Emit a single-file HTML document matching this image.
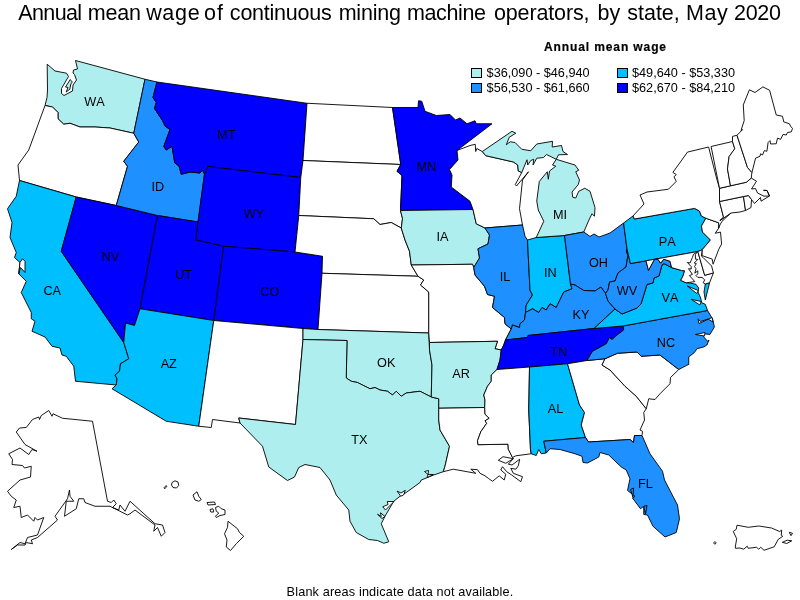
<!DOCTYPE html>
<html><head><meta charset="utf-8"><title>Annual mean wage of continuous mining machine operators, by state, May 2020</title>
<style>
html,body{margin:0;padding:0;background:#fff;}
body{width:800px;height:600px;position:relative;overflow:hidden;font-family:"Liberation Sans",Arial,sans-serif;color:#000;}
#title{position:absolute;left:0;top:1px;width:800px;height:24px;font-size:21.5px;white-space:nowrap;line-height:24px;}
#title span{position:absolute;top:0;}
#map{position:absolute;left:0;top:0;}
#map path{stroke:#000;stroke-width:0.9;stroke-linejoin:miter;stroke-miterlimit:3;}
#map text{font-size:12.7px;text-anchor:middle;fill:#000;font-kerning:none;}
#legend-title{position:absolute;left:544px;top:39.8px;font-size:12px;font-weight:bold;white-space:nowrap;line-height:14px;letter-spacing:0.89px;-webkit-text-stroke:0.2px #000}
.lg{position:absolute;font-size:12.7px;white-space:nowrap;line-height:14px;}
.sw{position:absolute;width:9px;height:8px;border:1px solid #000;}
#foot{position:absolute;left:0;width:800px;top:584.8px;text-align:center;font-size:12.7px;line-height:14px;letter-spacing:0.15px}
</style></head><body>
<div id="title"><span style="left:18.34px;letter-spacing:-0.642px">Annual</span> <span style="left:87.86px;letter-spacing:-0.209px">mean</span> <span style="left:146.15px;letter-spacing:0.689px">wage</span> <span style="left:204.00px;letter-spacing:1.073px">of</span> <span style="left:229.86px;letter-spacing:-0.232px">continuous</span> <span style="left:338.65px;letter-spacing:-0.207px">mining</span> <span style="left:407.00px;letter-spacing:-0.383px">machine</span> <span style="left:493.91px;letter-spacing:-0.128px">operators,</span> <span style="left:597.51px;letter-spacing:0.075px">by</span> <span style="left:627.34px;letter-spacing:-0.035px">state,</span> <span style="left:686.00px;letter-spacing:0.577px">May</span> <span style="left:734.00px;letter-spacing:-0.295px">2020</span></div>
<svg id="map" width="800" height="600" viewBox="0 0 800 600">
<path d="M47.2 64.2 L55 71 L66.5 73.2 L68.5 76.5 L61.5 88.5 L61.5 93.5 L64 95.5 L72.5 91 L73 85 L76.5 80 L74.5 74.5 L73 73 L73.5 70 L77.5 69 L75.5 60.5 L145 79.25 L133.75 133.25 L110 128 L95 127 L80 127 L70 123.25 L63.75 124.25 L58 118.75 L58 112.5 L52.5 107 L45 105.5 L47 97.5 L47.5 90Z" fill="#AFEEEE"/>
<path d="M70.3 79.5 L65.5 87 L68 87.5 L66.2 92 L69.8 89.3 L70.8 84 L72.3 82 L71 80.5Z" fill="#AFEEEE"/>
<path d="M45 105.5 L52.5 107 L58 112.5 L58 118.75 L63.75 124.25 L70 123.25 L80 127 L95 127 L110 128 L133.75 133.25 L138.75 142 L123.75 161.25 L127.5 166.25 L116.25 205.5 L76.25 197 L19.5 180.5 L18 165 L28.75 150Z" fill="#FFFFFF"/>
<path d="M19.5 180.5 L76.25 197 L61.25 251.25 L123.75 342.5 L128.75 358.75 L120.5 363.75 L119.5 371.25 L115 375 L117 378.75 L116.25 385 L75.5 381.25 L73.75 366.25 L66.25 356.25 L62 355 L60 348 L52 346.25 L45 337 L32 331.25 L35 321.25 L31.25 318.75 L31.25 312.5 L21.25 292.5 L26.25 281.25 L18.75 273.75 L20 262.5 L14.5 257.5 L16.25 252.5 L10 237.5 L12 222.5 L7.5 208.75 L16.25 196.25Z" fill="#00BFFF"/>
<path d="M20 262.5 L22.5 258.75 L25 261.25 L25 272.5 L20.5 267.5 L18.75 273.75Z" fill="#FFFFFF"/>
<path d="M76.25 197 L116.25 205.5 L157.5 215.5 L140 308.75 L134.5 325.5 L125.5 323 L123.75 342.5 L61.25 251.25Z" fill="#0000FF"/>
<path d="M145 79.25 L157 82 L153 97.5 L156.25 102.5 L154.5 108.5 L162.5 120.5 L165 126 L170 129.5 L163.75 146.5 L166.25 150 L172 146.25 L174.8 163 L179 166 L181.25 174.25 L190 172 L200 173 L202.5 170 L204.5 174.25 L198 222 L157.5 215.5 L116.25 205.5 L127.5 166.25 L123.75 161.25 L138.75 142 L133.75 133.25Z" fill="#1E90FF"/>
<path d="M157 82 L307 103.25 L303 160.5 L300.75 177.5 L208 166.5 L204.5 174.25 L202.5 170 L200 173 L190 172 L181.25 174.25 L179 166 L174.8 163 L172 146.25 L166.25 150 L163.75 146.5 L170 129.5 L165 126 L162.5 120.5 L154.5 108.5 L156.25 102.5 L153 97.5Z" fill="#0000FF"/>
<path d="M208 166.5 L300.75 177.5 L298.75 215.5 L295 252 L223.75 246.25 L195.75 240 L198 222 L204.5 174.25Z" fill="#0000FF"/>
<path d="M157.5 215.5 L198 222 L195.75 240 L223.75 246.25 L213.75 320.5 L140 308.75Z" fill="#0000FF"/>
<path d="M223.75 246.25 L295 252 L322.5 256.25 L322 273.25 L318 329.5 L213.75 320.5Z" fill="#0000FF"/>
<path d="M140 308.75 L213.75 320.5 L198.75 426.25 L166.25 421.25 L112 388.75 L116.25 385 L117 378.75 L115 375 L119.5 371.25 L120.5 363.75 L128.75 358.75 L123.75 342.5 L125.5 323 L134.5 325.5Z" fill="#00BFFF"/>
<path d="M213.75 320.5 L303 328.5 L303 339.5 L295.5 424.5 L238.75 418 L240 423 L212.5 419.5 L211.25 427.5 L198.75 426.25Z" fill="#FFFFFF"/>
<path d="M307 103.25 L392.5 107.5 L400.75 164.5 L303 160.5Z" fill="#FFFFFF"/>
<path d="M303 160.5 L400.75 164.5 L397 171.25 L402 175.5 L400.5 210.5 L402.5 218.75 L401.25 228 L391.25 222.5 L380 224.5 L373.75 218.75 L298.75 215.5 L300.75 177.5Z" fill="#FFFFFF"/>
<path d="M298.75 215.5 L373.75 218.75 L380 224.5 L391.25 222.5 L401.25 228 L405 240 L409.5 251.25 L411.25 265 L418 276.25 L322 273.25 L322.5 256.25 L295 252Z" fill="#FFFFFF"/>
<path d="M322 273.25 L418 276.25 L423.75 280 L420.5 285 L428.75 292 L428.75 333 L318 329.5Z" fill="#FFFFFF"/>
<path d="M303 328.5 L318 329.5 L428.75 333 L429.5 350 L432 365 L431.25 397 L420 391.25 L406.25 393 L401.25 396.25 L396.25 391.25 L392.5 395 L387.5 391.25 L380 390 L375 387.5 L370 388.75 L357.5 382.5 L351.25 381.25 L346.25 378 L347 340.5 L303 339.5Z" fill="#AFEEEE"/>
<path d="M303 339.5 L347 340.5 L346.25 378 L351.25 381.25 L357.5 382.5 L370 388.75 L375 387.5 L380 390 L387.5 391.25 L392.5 395 L396.25 391.25 L401.25 396.25 L406.25 393 L420 391.25 L431.25 397 L438.75 398.75 L438.75 408.25 L438.75 420 L440 430 L449.5 446.25 L445 466.25 L443.3 471.7 L433.75 475 L421.25 480 L420 482.5 L406.25 492.5 L400 496.25 L393.75 501.25 L385 516.25 L381.25 523.75 L388.75 541.75 L383.75 543.25 L377.5 540.5 L368.75 539.5 L356.25 532.5 L350 521.25 L348.75 510 L336.25 495 L330 480 L320 467.5 L305 464.5 L298.75 467.5 L294.5 477 L287.5 480.5 L268.75 467 L262.5 446.25 L240 423 L238.75 418 L295.5 424.5Z" fill="#AFEEEE"/>
<path d="M424.5 471.5 L428.5 470.5 L428 474.5 L433.5 474.5 L427 477.5 L428 474.5Z" fill="#FFFFFF"/>
<path d="M397 491 L401 493 L405.25 490.25 L403.75 494.75 L400.75 496.25Z" fill="#FFFFFF"/>
<path d="M382.75 506.75 L388 504.5 L387.25 501.5 L394 501.5 L385.5 510Z" fill="#FFFFFF"/>
<path d="M377.5 514.25 L381.25 516.5 L380.5 512.75 L385 516.5 L382 518.5Z" fill="#FFFFFF"/>
<path d="M392.5 107.5 L418 107.5 L418.5 100.75 L421.75 101.25 L425 111.25 L436.25 115.5 L450 114.5 L455.5 120 L460 118 L467 123.75 L475 120.75 L476.25 123.75 L492 123.75 L457 150.5 L458 160 L449.5 169.5 L452 175 L451.25 187 L470 201.25 L473 209.5 L400.5 210.5 L402 175.5 L397 171.25 L400.75 164.5Z" fill="#0000FF"/>
<path d="M400.5 210.5 L473 209.5 L476.25 223.75 L485 228 L489.5 235 L488 244 L478 248.75 L479.5 258 L473.75 267.5 L472.5 264.25 L411.25 265 L409.5 251.25 L405 240 L401.25 228 L402.5 218.75Z" fill="#AFEEEE"/>
<path d="M411.25 265 L472.5 264.25 L473.75 267.5 L475 275 L484.5 286.25 L487.5 294.5 L494.5 296.25 L492.5 307.5 L504.5 317.5 L505 323.75 L511.25 329 L510 331.25 L505.5 340 L503.75 345 L501.25 350 L495 348.75 L497.5 341.25 L429.5 342.5 L428.75 333 L428.75 292 L420.5 285 L423.75 280 L418 276.25Z" fill="#FFFFFF"/>
<path d="M429.5 342.5 L497.5 341.25 L495 348.75 L501.25 350 L500 360 L497 369.5 L491.25 375 L491.25 381.25 L487.5 386.25 L483.75 395 L485 400 L484.7 407.5 L438.75 408.25 L438.75 398.75 L431.25 397 L432 365 L429.5 350Z" fill="#AFEEEE"/>
<path d="M438.75 408.25 L484.7 407.5 L485 414.2 L489.2 418.3 L485 420.8 L486.7 423.3 L480.8 431.7 L477.5 440.8 L478 444.7 L508 444.2 L508.3 449.2 L512.5 457.5 L513.3 458.7 L508.3 464.2 L512 465 L519.7 459.2 L518.3 465.8 L515.8 469.2 L510.8 468.3 L513.3 473.3 L522.5 476.7 L520.8 481.7 L511.7 475 L506.7 471.7 L502.5 466.7 L500.8 470 L505.8 474.2 L504.2 480 L499.2 475.8 L492.5 481.3 L488.3 478.3 L485 475.8 L480 473.3 L477.5 469.7 L470.8 469.2 L475.8 473.3 L453.3 469.2 L443.3 471.7 L445 466.25 L449.5 446.25 L440 430 L438.75 420Z" fill="#FFFFFF"/>
<path d="M498.3 460.3 L503 456.7 L513.3 458.7 L505.8 463.3Z" fill="#FFFFFF"/>
<path d="M457 150.5 L470 145.5 L475.25 144.3 L475.7 151.5 L476.75 148.5 L482.3 151.5 L485.75 155.7 L513.5 162 L517.7 165 L518.3 171 L521.75 172.5 L515.3 184.5 L516.5 186 L528.5 171.75 L522.5 180 L519.5 208.75 L522.5 225 L485 228 L476.25 223.75 L473 209.5 L470 201.25 L451.25 187 L452 175 L449.5 169.5 L458 160Z" fill="#FFFFFF"/>
<path d="M485 228 L522.5 225 L525 236.25 L527.5 240 L530 290 L532.5 295 L526.25 305 L525.5 312.5 L524.5 320 L520 323.75 L519.5 327.5 L512.5 325 L511.25 329 L505 323.75 L504.5 317.5 L492.5 307.5 L494.5 296.25 L487.5 294.5 L484.5 286.25 L475 275 L473.75 267.5 L479.5 258 L478 248.75 L488 244 L489.5 235Z" fill="#1E90FF"/>
<path d="M527.5 240 L536.25 237.5 L564.5 235.5 L570.5 284 L572 288.75 L563.75 292 L556.25 307.5 L550 303.75 L546.25 310 L542 307.5 L538.75 312.5 L532.5 308.75 L525.5 312.5 L526.25 305 L532.5 295 L530 290Z" fill="#00BFFF"/>
<path d="M536.25 237.5 L543.75 221.25 L538.25 210 L536.75 201 L539.3 181.5 L547.25 171.75 L548.3 179.25 L549.5 171 L555.8 166.2 L552.5 165 L556.25 159.3 L575 165 L578.75 170.25 L575.75 171.75 L579.5 180 L578.3 184.5 L572 192 L572.75 197.25 L575.75 198 L578.75 191.25 L584.75 188.25 L590 191.25 L595 207.5 L594.5 216.25 L592 213.75 L589.5 218.75 L583.75 232 L564.5 235.5Z" fill="#AFEEEE"/>
<path d="M482.3 151.5 L512 131.25 L515.75 133.2 L509.3 137.25 L506.3 144.75 L510.2 141.75 L515 142.5 L521.75 149.25 L530.75 150.75 L536.75 144 L552.5 141.3 L552.2 147 L561.5 145.5 L563 151.5 L567.5 154.5 L558.5 154.8 L556.25 159.3 L546.5 154.5 L543.5 157.5 L536.75 158.25 L533 165 L533.75 159.3 L530.75 160.5 L527.75 165 L527 159.75 L521.75 172.5 L518.3 171 L517.7 165 L513.5 162 L485.75 155.7Z" fill="#AFEEEE"/>
<path d="M564.5 235.5 L583.75 232 L590 236.4 L594 234 L599 237 L610 233 L623.6 223 L627 249 L626.5 252 L628 255 L626 267 L618 273 L615 281 L609.6 282 L608 290 L605.5 293.5 L601 287 L595 291 L583.75 290.5 L575 285 L570.5 284Z" fill="#1E90FF"/>
<path d="M570.5 284 L575 285 L583.75 290.5 L595 291 L601 287 L605.5 293.5 L608 301 L615 309 L594 328.5 L528 335.5 L527.5 337.5 L505.5 340 L510 331.25 L511.25 329 L512.5 325 L519.5 327.5 L520 323.75 L524.5 320 L525.5 312.5 L532.5 308.75 L538.75 312.5 L542 307.5 L546.25 310 L550 303.75 L556.25 307.5 L563.75 292 L572 288.75Z" fill="#1E90FF"/>
<path d="M505.5 340 L527.5 337.5 L528 335.5 L594 328.5 L623 326 L623.75 330 L617 335 L612 339.5 L609.5 337.5 L606.25 343.75 L592.5 351.25 L587 360.5 L567.5 363.75 L529.5 367 L497 369.5 L500 360 L501.25 350 L503.75 345Z" fill="#0000FF"/>
<path d="M497 369.5 L529.5 367 L528.75 410 L530.5 450 L531.25 453.75 L515.8 455.8 L512.5 457.5 L508.3 449.2 L508 444.2 L478 444.7 L477.5 440.8 L480.8 431.7 L486.7 423.3 L485 420.8 L489.2 418.3 L485 414.2 L484.7 407.5 L485 400 L483.75 395 L487.5 386.25 L491.25 381.25 L491.25 375Z" fill="#FFFFFF"/>
<path d="M529.5 367 L567.5 363.75 L579.5 405 L584.5 412.5 L581.25 425 L585.5 437.5 L543.75 441.25 L546.25 453 L541.25 453.75 L538.75 449.5 L536.25 455.5 L531.25 453.75 L530.5 450 L528.75 410Z" fill="#00BFFF"/>
<path d="M567.5 363.75 L587 360.5 L605 358.75 L602 365 L610 370 L625 386.25 L636.25 396.25 L646.25 408.75 L643.75 412.5 L644.5 420 L640 430 L642.5 431.25 L642 435.5 L634.5 435.5 L633.5 442.5 L630 439.5 L588.5 442 L585.5 437.5 L581.25 425 L584.5 412.5 L579.5 405Z" fill="#FFFFFF"/>
<path d="M543.75 441.25 L585.5 437.5 L588.5 442 L630 439.5 L633.5 442.5 L634.5 435.5 L642 435.5 L650 453.75 L662.5 471.25 L664.5 480 L677.5 505 L679.5 518.75 L676.25 532.5 L665 537 L653 526.25 L647.5 515 L643.75 514.5 L643.75 506.25 L640.5 508.75 L632.5 498 L635 496.25 L627.5 490.5 L630 478.75 L626.25 470 L621.25 467 L608.75 455 L600 452.5 L598.75 457 L587.5 463 L583 462.5 L582 456.25 L575 453.75 L560 449.5 L550 448.75 L546.25 453Z" fill="#1E90FF"/>
<path d="M630.5 489.5 L633 497.5 L633.5 488Z" fill="#1E90FF"/>
<path d="M643.75 506.25 L645.5 514 L647 505.5Z" fill="#1E90FF"/>
<path d="M605 358.75 L617.5 353.25 L637 352 L641.25 356.25 L660 355 L678.75 369.5 L670.5 377.5 L670 383.75 L660 393.75 L655 399.5 L648.75 398.75 L646.25 408.75 L636.25 396.25 L625 386.25 L610 370 L602 365Z" fill="#FFFFFF"/>
<path d="M623 326 L707.5 310.5 L712.5 318.75 L714.4 326.9 L710 334.4 L703 333.75 L703.75 336.9 L707.5 341.25 L709 340 L706.9 345 L703.75 346.9 L696.9 348.75 L694.4 352.5 L688.75 356.9 L688.75 364.4 L686.25 365.6 L678.75 369.5 L660 355 L641.25 356.25 L637 352 L617.5 353.25 L605 358.75 L587 360.5 L592.5 351.25 L606.25 343.75 L609.5 337.5 L612 339.5 L617 335 L623.75 330Z" fill="#1E90FF"/>
<path d="M712 317.5 L699 323.5 L698 318.8 L700.5 321.5 L708 319 L713 322Z" fill="#FFFFFF"/>
<path d="M705 332.5 L695.5 334.5 L704.5 336Z" fill="#FFFFFF"/>
<path d="M594 328.5 L615 309 L622 314 L637 308 L641 304 L647 284.4 L653 283 L654 278 L659 276 L662 265 L664 263.6 L671.6 267.6 L681.6 270.5 L684.6 270.8 L683 276 L680.7 280.4 L686.1 282.8 L690 283 L696 284.3 L698.7 288 L698 292 L700.7 298 L701.7 302.7 L705.3 304.3 L707.5 310.5 L623 326Z" fill="#00BFFF"/>
<path d="M705.3 284 L709.6 282.7 L705.3 300 L704 292Z" fill="#00BFFF"/>
<path d="M698.3 290.5 L687.3 286 L696.8 293.5Z" fill="#FFFFFF"/>
<path d="M701.2 301.5 L691.3 299.3 L699.8 305Z" fill="#FFFFFF"/>
<path d="M605.5 293.5 L608 290 L609.6 282 L615 281 L618 273 L626 267 L628 255 L626.5 252 L627 249 L630.4 263.6 L646 260.8 L648.5 270.3 L654.4 259.4 L657.5 258.8 L660.6 263.1 L663.75 259.2 L670 261.25 L671.6 267.6 L664 263.6 L662 265 L659 276 L654 278 L653 283 L647 284.4 L641 304 L637 308 L622 314 L615 309 L608 301Z" fill="#1E90FF"/>
<path d="M623.6 223 L633 216 L634.4 219 L694.6 208.4 L699.5 211.1 L701.4 216 L705.9 218.25 L701.4 226.1 L702.5 232.1 L710.4 240 L703 248.8 L700.5 250.5 L697.8 251.5 L630.4 263.6 L627 249Z" fill="#00BFFF"/>
<path d="M646 260.8 L697.8 251.5 L693.5 254.3 L692.4 257.6 L690 263 L687.3 262.4 L691.2 266.6 L691.2 269 L688.5 268.7 L692.4 274.4 L689.4 275.6 L694.8 281.6 L686.1 282.8 L680.7 280.4 L683 276 L684.6 270.8 L681.6 270.5 L671.6 267.6 L670 261.25 L663.75 259.2 L660.6 263.1 L657.5 258.8 L654.4 259.4 L648.5 270.3Z" fill="#FFFFFF"/>
<path d="M697.8 251.5 L704.7 275.3 L713.4 272.9 L709.6 282.7 L705.3 284 L703.2 282.8 L704.7 279.8 L702 277.4 L697.8 277.4 L696 275.6 L697.8 273.8 L697.8 270.8 L694.8 273.2 L696 268.7 L694.5 266.6 L696.3 263.6 L694.2 263 L697.8 259.4 L695.4 259.1 L695.4 254.3Z" fill="#FFFFFF"/>
<path d="M697.8 251.5 L700.5 250.5 L702.3 249.5 L701.4 256.1 L703.2 257.6 L711.6 266 L713.4 272.9 L704.7 275.3Z" fill="#FFFFFF"/>
<path d="M705.9 218.25 L718.6 222.75 L719 227.6 L715.25 233.25 L720.5 232.1 L721.6 244 L718.8 249.2 L713.1 264.2 L712.2 259.1 L703.2 256 L702 255.8 L702.3 249.5 L703 248.8 L710.4 240 L702.5 232.1 L701.4 226.1Z" fill="#FFFFFF"/>
<path d="M687.5 152.1 L708.6 147 L716.5 178 L719.5 188.3 L719.5 201.5 L723.5 217.1 L720.1 220.5 L731 213 L722 221.25 L718.25 228 L719 227.6 L718.6 222.75 L705.9 218.25 L701.4 216 L699.5 211.1 L694.6 208.4 L634.4 219 L633 216 L644 204 L640 195 L647 192 L668.4 189.25 L676.25 181.4 L674 176.9 L676.25 174.6 L672.9 172.4Z" fill="#FFFFFF"/>
<path d="M719.5 201.5 L743.5 196.5 L745.5 210.5 L740 212 L731 213 L720.1 220.5 L723.5 217.1Z" fill="#FFFFFF"/>
<path d="M743.5 196.5 L748.5 195.5 L751.5 199.5 L751 207.5 L745.5 210.5Z" fill="#FFFFFF"/>
<path d="M719.5 188.3 L730.5 185.8 L746.5 182.2 L751.25 178.1 L756.5 181.2 L751.5 189 L755.5 188.5 L757.5 193 L764 196.2 L769.5 196 L767 190.5 L763.5 190.3 L767 190.5 L769.5 196 L761 201.2 L760.5 197.5 L754.5 203.5 L751.5 199.5 L748.5 195.5 L743.5 196.5 L719.5 201.5Z" fill="#FFFFFF"/>
<path d="M711.1 146.5 L732.5 141.5 L734.75 148.75 L729.1 156.6 L727.5 169 L730.5 185.8 L719.5 188.3Z" fill="#FFFFFF"/>
<path d="M732.5 141.5 L732.5 136.4 L737 135.25 L747.5 167.5 L751.9 172.5 L751.25 178.1 L746.5 182.2 L730.5 185.8 L727.5 169 L729.1 156.6 L734.75 148.75Z" fill="#FFFFFF"/>
<path d="M737 135.25 L742.6 129.6 L741 130.5 L744.2 120.6 L743.3 104.9 L749.4 89.8 L755 92.5 L762.9 86.9 L769.6 90.25 L776.25 115 L782.5 116.25 L783.75 121.9 L789.4 123.75 L790.6 126.25 L792.5 128.5 L791.25 131.9 L787.5 132.5 L786.25 135 L783.1 134.4 L780.6 139.4 L777.5 138.1 L776.25 143.75 L770.6 144 L770 140.6 L768.1 142.5 L766.9 151.25 L764.4 150.6 L762.5 155 L760.6 153.75 L760 156.25 L755.6 158.1 L751.9 172.5 L747.5 167.5Z" fill="#FFFFFF"/>
<path d="M48.75 410.5 L52 416.25 L53 413.75 L62.5 418.25 L92.5 421.25 L107.5 501.25 L111.25 502.5 L113.75 500 L116.25 503.75 L112.5 507.5 L118.75 510 L120 505 L125 511.25 L130 501.25 L155 523.75 L162.5 525 L165 532.5 L161.25 536.25 L157.5 527.5 L153.75 531.25 L155 525 L135 510 L130 513.75 L127.5 515 L110 506.25 L95 506.25 L85 502.5 L83.75 498.75 L78.75 498.75 L76.25 508.75 L64.5 516.25 L66.25 501.25 L73.75 501.25 L70 496.25 L69.5 490 L67.5 498.75 L55 516.25 L57.5 520 L37.5 537.5 L31.25 540 L32.5 543.75 L26.25 542.5 L25 545 L17.5 545 L11.25 549.5 L20 542.5 L25 543.75 L27.5 537.5 L37.5 535 L43.75 517.5 L37.5 520 L35 517.5 L33.75 521.25 L27.5 515 L21.25 517.5 L20 506.25 L13.75 507.5 L16.25 500 L11.25 496.25 L7.5 491.25 L20 480 L30.5 477 L31.25 466.25 L24.5 468 L22.5 465.5 L12 464.5 L12.5 459.5 L8.75 453.75 L20 448 L28.75 454.5 L32 449.5 L37 451.25 L25 444.5 L16.25 432 L19.5 428 L26.25 427.5 L32.5 419.5 L38.75 417 L39.5 419.5 L41.25 415.5Z" fill="#FFFFFF"/>
<path d="M228 521.25 L237.5 528.75 L239.5 532.5 L243.75 536.25 L236.25 543.75 L230.5 550.5 L226.25 547 L227 540 L224.5 533.75 L227.5 527.5Z" fill="#FFFFFF"/>
<path d="M215.5 507.5 L218.75 506.25 L221.25 508.75 L225 510 L225 514.5 L220 515.5 L216.25 517.5 L215.5 516.25 L218.75 513 L216.25 511.25Z" fill="#FFFFFF"/>
<path d="M210 509.5 L213 508.75 L213.75 512 L210.75 512Z" fill="#FFFFFF"/>
<path d="M207 502.5 L214.5 502 L215.5 504.5 L208 505Z" fill="#FFFFFF"/>
<path d="M193 495 L197 491.75 L198.75 496.25 L201.25 499.5 L198.75 501.25 L195 500Z" fill="#FFFFFF"/>
<path d="M172 482.5 L175 480.8 L178 482 L178.7 485.5 L176.5 488 L173 487.5 L171.5 485Z" fill="#FFFFFF"/>
<path d="M164 487.8 L166.2 485.5 L166.8 486.3 L164.8 488.8Z" fill="#FFFFFF"/>
<path d="M737 525.2 L748.25 527.3 L758.75 526 L771.5 528 L779.75 531.5 L781.7 530 L781.25 535.25 L782.75 536.3 L778.25 539.3 L774.2 546.8 L764 550.25 L760.7 547.25 L758.75 549.2 L756.5 547.25 L748.25 548.3 L747.2 546.2 L743.75 549.2 L740 548 L735.5 548.3 L735.3 547 L736.7 538.7 L733.25 531.5 L736.25 529.25Z" fill="#FFFFFF"/>
<path d="M782.3 542.3 L787.25 540.2 L791.75 540.8 L786.8 543.5Z" fill="#FFFFFF"/>
<path d="M789.2 532.25 L792.5 533.3 L791 535.7Z" fill="#FFFFFF"/>
<path d="M713.6 543 L714.9 541.6 L716.2 542.9 L714.9 544.3Z" fill="#FFFFFF"/>
<g font-family="Liberation Sans, Arial, sans-serif">
<text x="94.4" y="105.5">WA</text>
<text x="157.75" y="191.25">ID</text>
<text x="226.25" y="139.25">MT</text>
<text x="426.4" y="171.25">MN</text>
<text x="560" y="219">MI</text>
<text x="110.4" y="261.25">NV</text>
<text x="52.25" y="295">CA</text>
<text x="183.5" y="278.75">UT</text>
<text x="254" y="218">WY</text>
<text x="269.75" y="295.75">CO</text>
<text x="442.5" y="240.5">IA</text>
<text x="505" y="280.75">IL</text>
<text x="550.25" y="276.75">IN</text>
<text x="598.5" y="266.5">OH</text>
<text x="581" y="318.5">KY</text>
<text x="627" y="294.5">WV</text>
<text x="667.2" y="246">PA</text>
<text x="670" y="301.5">VA</text>
<text x="666" y="346.7">NC</text>
<text x="168.75" y="368">AZ</text>
<text x="386.25" y="366.75">OK</text>
<text x="461" y="377.75">AR</text>
<text x="558.75" y="355.5">TN</text>
<text x="555.5" y="412.5">AL</text>
<text x="359.4" y="443.75">TX</text>
<text x="645.4" y="488">FL</text>
</g>
</svg>
<div id="legend-title">Annual mean wage</div>
<div class="sw" style="left:471px;top:68px;background:#AFEEEE"></div><div class="lg" style="left:486.6px;top:65.5px">$36,090 - $46,940</div>
<div class="sw" style="left:617px;top:68px;background:#00BFFF"></div><div class="lg" style="left:632px;top:65.5px">$49,640 - $53,330</div>
<div class="sw" style="left:471px;top:83px;background:#1E90FF"></div><div class="lg" style="left:486.6px;top:80.5px">$56,530 - $61,660</div>
<div class="sw" style="left:617px;top:83px;background:#0000FF"></div><div class="lg" style="left:632px;top:80.5px">$62,670 - $84,210</div>
<div id="foot">Blank areas indicate data not available.</div>
</body></html>
